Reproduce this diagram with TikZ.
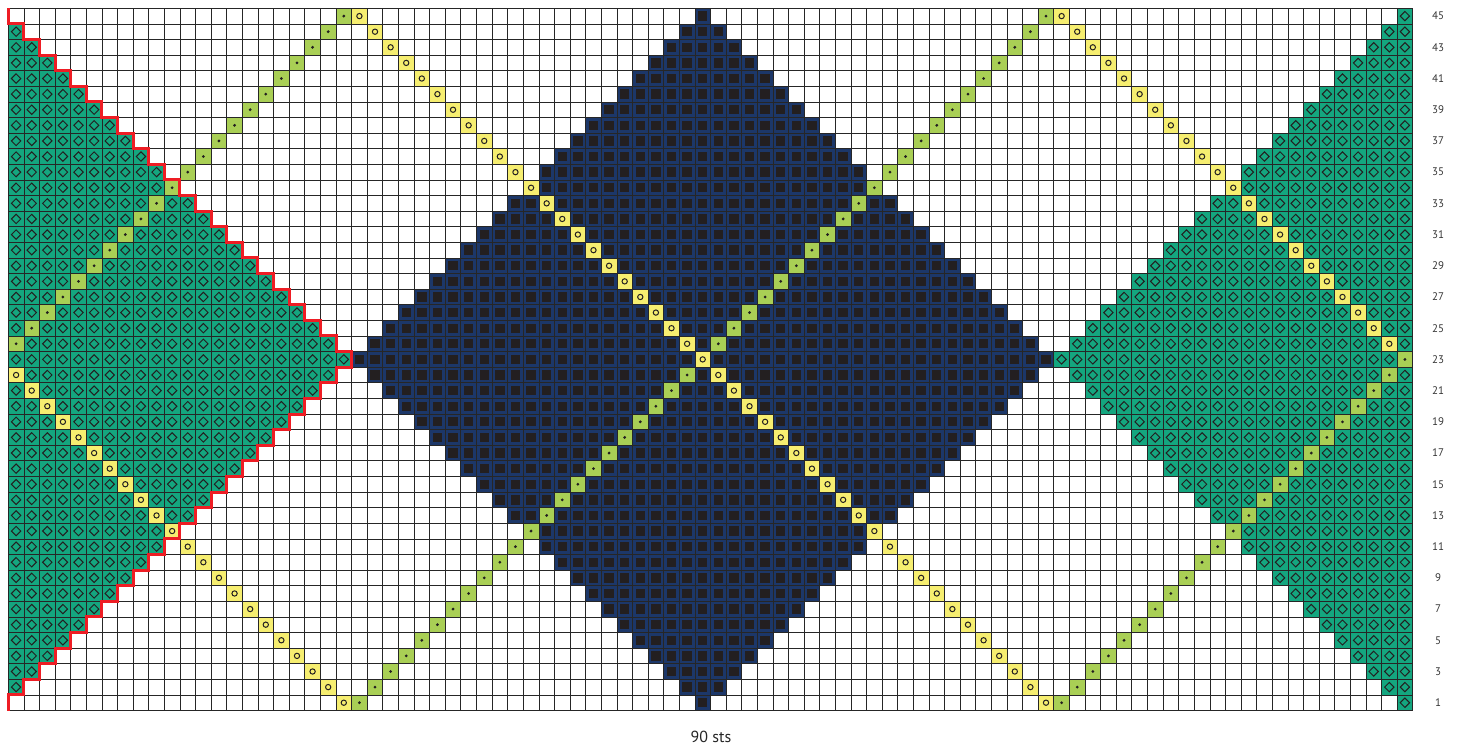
\documentclass[tikz,border=0pt]{standalone}
\usepackage{fontspec}
\setmainfont{PT Sans}
\usepackage{tikz}
\definecolor{chteal}{HTML}{14A67F}
\definecolor{chnavy}{HTML}{1C3769}
\definecolor{chink}{HTML}{231F20}
\definecolor{chyel}{HTML}{F6EE70}
\definecolor{chgrn}{HTML}{A9CF55}
\definecolor{chred}{HTML}{EE1D24}
\newcommand{\tealst}[2]{\fill[chteal] (#1,#2) rectangle ++(1,1);
  \draw[sym] (#1+0.5,#2+0.2) -- (#1+0.8,#2+0.5) -- (#1+0.5,#2+0.8) -- (#1+0.2,#2+0.5) -- cycle;}
\newcommand{\darkst}[2]{\fill[chnavy] (#1,#2) rectangle ++(1,1);
  \fill[chink] (#1+0.2,#2+0.2) rectangle ++(0.6,0.6);}
\newcommand{\yelst}[2]{\fill[chyel] (#1,#2) rectangle ++(1,1);
  \draw[sym] (#1+0.5,#2+0.5) circle (0.17);}
\newcommand{\grnst}[2]{\fill[chgrn] (#1,#2) rectangle ++(1,1);
  \fill[chink] (#1+0.5,#2+0.5) circle (0.1);}

\begin{document}
\begin{tikzpicture}[x=15.604pt, y=15.604pt,
  sym/.style={draw=chink, line width=1pt},
  gridln/.style={line width=0.7pt, black!85},
  redstep/.style={chred, line width=3pt},
  rowlab/.style={font=\fontsize{11}{13}\selectfont, text=black!80},
  stslab/.style={font=\fontsize{16}{18}\selectfont, text=black!85}]
  \useasboundingbox (-0.532,-2.307) rectangle (93.159,45.532);
  \foreach \y in {0,...,44} {
    \pgfmathtruncatemacro{\d}{22-abs(\y-22)}
    \pgfmathtruncatemacro{\lo}{44-\d}
    \pgfmathtruncatemacro{\hi}{44+\d}
    \pgfmathtruncatemacro{\rt}{89-\d}
    \foreach \x in {\lo,...,\hi} {\darkst{\x}{\y}}
    \foreach \x in {\rt,...,89} {\tealst{\x}{\y}}
    \ifnum\d>0
      \pgfmathtruncatemacro{\lt}{\d-1}
      \foreach \x in {0,...,\lt} {\tealst{\x}{\y}}
    \fi
  }
  \foreach \y in {0,...,44} {\grnst{22+\y}{\y}}
  \foreach \y in {23,...,44} {\grnst{\y-23}{\y}}
  \foreach \y in {0,...,22} {\grnst{67+\y}{\y}}
  \foreach \y in {0,...,21} {\yelst{21-\y}{\y}}
  \foreach \y in {0,...,44} {\yelst{66-\y}{\y}}
  \foreach \y in {23,...,44} {\yelst{111-\y}{\y}}
  \draw[gridln, step=1] (0,0) grid (90,45);
  \draw[redstep] (0,45) \foreach \k in {0,...,21} { -- (\k,44-\k) -- (\k+1,44-\k) }
    \foreach \k in {22,...,1} { -- (\k,\k) -- (\k-1,\k) } -- (0,0);
  \foreach \r in {1,3,...,45} \node[rowlab] (row\r) at (91.62,\r-0.5) {\r};
  \node[stslab] (sts) at (45.03,-1.71) {90 sts};
\end{tikzpicture}
\end{document}
